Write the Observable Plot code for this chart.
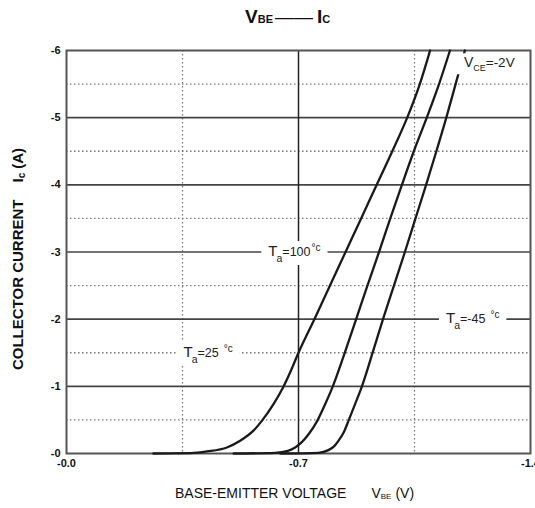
<!DOCTYPE html>
<html><head><meta charset="utf-8">
<script src="https://cdn.jsdelivr.net/npm/d3@7"></script>
<script src="https://cdn.jsdelivr.net/npm/@observablehq/plot@0.6"></script>
<style>body{margin:0;background:#fff;}</style>
</head><body><div id="chart"></div>
<script>
// ---- data (magnitudes; axis labels carry the minus sign) ----
const vbeTa100 = [0.262,0.374,0.424,0.484,0.524,0.564,0.590,0.625,0.653,0.675,0.699,0.748,0.795,0.842,0.889,0.936,0.983,1.028,1.066,1.097];
const icTa100  = [0,0.005,0.03,0.09,0.19,0.34,0.49,0.74,0.98,1.21,1.49,2.0,2.5,3.0,3.5,4.0,4.5,5.0,5.5,6.0];
const vbeTa25  = [0.504,0.630,0.668,0.690,0.710,0.731,0.757,0.781,0.802,0.839,0.874,0.908,0.943,0.977,1.012,1.048,1.087,1.124,1.157];
const icTa25   = [0,0.01,0.04,0.09,0.17,0.29,0.49,0.74,0.98,1.49,2.0,2.5,3.0,3.5,4.0,4.5,5.0,5.5,6.0];
const vbeTaM45 = [0.645,0.760,0.790,0.808,0.822,0.837,0.851,0.871,0.890,0.923,0.955,0.988,1.021,1.053,1.085,1.116,1.146,1.174,1.202];
const icTaM45  = [0,0.01,0.05,0.11,0.20,0.32,0.49,0.74,0.98,1.49,2.0,2.5,3.0,3.5,4.0,4.5,5.0,5.5,6.0];

const xTicks = [0, 0.7, 1.4];
const xTickLabels = ["-0.0", "-0.7", "-1.4"];
const yTicks = [0, 1, 2, 3, 4, 5, 6];
const yTickLabels = ["-0", "-1", "-2", "-3", "-4", "-5", "-6"];
const yMajor = [1, 2, 3, 4, 5];
const yMinor = [0.5, 1.5, 2.5, 3.5, 4.5, 5.5];
const xMajor = [0.7];
const xMinor = [0.35, 1.05];

const annotKeys = ["t100", "t25", "tm45", "vce"];
const annotV = [0.609, 0.353, 1.145, 1.199];
const annotI = [3, 1.5, 2, 5.81];

// ---- build tables ----
const curves = [
  ...vbeTa100.map((v, i) => ({series: "100", v, i: icTa100[i]})),
  ...vbeTa25.map((v, i) => ({series: "25", v, i: icTa25[i]})),
  ...vbeTaM45.map((v, i) => ({series: "-45", v, i: icTaM45[i]}))
];
const annots = annotKeys.map((k, j) => ({key: k, v: annotV[j], i: annotI[j]}));

const chart = Plot.plot({
  width: 535, height: 508,
  marginLeft: 66, marginRight: 5, marginTop: 50, marginBottom: 55,
  style: {fontFamily: "'Liberation Sans', Arial, sans-serif", fontSize: "11px", fontWeight: "bold", color: "#111", background: "#fff"},
  x: {domain: [0, 1.4], ticks: xTicks, tickFormat: d => xTickLabels[xTicks.indexOf(d)], tickSize: 0, tickPadding: 6, label: null},
  y: {domain: [0, 6], ticks: yTicks, tickFormat: d => yTickLabels[yTicks.indexOf(d)], tickSize: 0, tickPadding: 6, label: null},
  marks: [
    Plot.ruleY(yMinor, {stroke: "#777", strokeWidth: 1.3, strokeDasharray: "1.5,2.5"}),
    Plot.ruleX(xMinor, {stroke: "#777", strokeWidth: 1.3, strokeDasharray: "1.5,2.5"}),
    Plot.ruleY(yMajor, {stroke: "#444", strokeWidth: 1.6}),
    Plot.ruleX(xMajor, {stroke: "#222", strokeWidth: 1.5}),
    Plot.frame({stroke: "#555", strokeWidth: 2}),
    Plot.line(curves, {x: "v", y: "i", z: "series", curve: "monotone-x", stroke: "#1a1a1a", strokeWidth: 2.3}),
    Plot.text(annots, {x: "v", y: "i", text: "key", textAnchor: "start", fill: "#222", fontSize: 12.5, fontWeight: "normal"})
  ]
});
document.getElementById("chart").append(chart);

function rich(textEl, parts) {
  const t = d3.select(textEl);
  t.text(null);
  let prev = 0;
  for (const p of parts) {
    const s = p.shift || 0;
    const ts = t.append("tspan").attr("dy", s - prev).attr("dx", p.dx || 0).attr("font-size", p.size).text(p.t);
    if (p.weight) ts.attr("font-weight", p.weight);
    prev = s;
  }
}

const annotParts = {
  t100: [{t: "T", size: 15}, {t: "a", size: 10.5, shift: 6, dx: -1}, {t: "=100", size: 12.5, shift: 0}, {t: "°c", size: 10, shift: -5, dx: 1}],
  t25:  [{t: "T", size: 15}, {t: "a", size: 10.5, shift: 6, dx: -1}, {t: "=25", size: 12.5, shift: 0}, {t: "°c", size: 10, shift: -5, dx: 5}],
  tm45: [{t: "T", size: 15}, {t: "a", size: 10.5, shift: 6, dx: -1}, {t: "=-45", size: 12.5, shift: 0}, {t: "°c", size: 10, shift: -5, dx: 5}],
  vce:  [{t: "V", size: 14}, {t: "CE", size: 9, shift: 4}, {t: "=-2V", size: 13.5, shift: 0}]
};

const svg = d3.select(chart);
svg.selectAll("text").each(function() {
  const key = this.textContent;
  if (!Object.prototype.hasOwnProperty.call(annotParts, key)) return;
  rich(this, annotParts[key]);
  const bb = this.getBBox();
  const r = document.createElementNS("http://www.w3.org/2000/svg", "rect");
  r.setAttribute("x", bb.x - 7); r.setAttribute("y", bb.y - 1);
  r.setAttribute("width", bb.width + 14); r.setAttribute("height", bb.height + 2);
  r.setAttribute("fill", "#fff");
  r.setAttribute("stroke", "none");
  if (this.getAttribute("transform")) r.setAttribute("transform", this.getAttribute("transform"));
  this.parentNode.insertBefore(r, this);
});

const FONT = "'Liberation Sans', Arial, sans-serif";
// title
const title = svg.append("text").attr("x", 245).attr("y", 23).attr("text-anchor", "start").attr("fill", "#111").attr("font-weight", "bold").attr("font-family", FONT);
rich(title.node(), [{t: "V", size: 19}, {t: "BE", size: 11}, {t: "——", size: 19, dx: 2, weight: "normal"}, {t: "I", size: 19, dx: 4}, {t: "C", size: 11}]);

// y label
const yl = svg.append("text").attr("transform", "translate(23,259) rotate(-90)").attr("text-anchor", "middle").attr("fill", "#111").attr("font-weight", "bold").attr("font-family", FONT);
rich(yl.node(), [{t: "COLLECTOR CURRENT", size: 15}, {t: "I", size: 15, dx: 17}, {t: "c", size: 10, shift: 2}, {t: "(A)", size: 15, dx: 4, shift: 0}]);

// x label
const xl = svg.append("text").attr("x", 175).attr("y", 498).attr("text-anchor", "start").attr("fill", "#111").attr("font-weight", "normal").attr("font-family", FONT);
rich(xl.node(), [{t: "BASE-EMITTER VOLTAGE", size: 14}, {t: "V", size: 14, dx: 25}, {t: "BE", size: 8, shift: 1}, {t: "(V)", size: 14, dx: 4, shift: 0}]);
</script>
</body></html>
